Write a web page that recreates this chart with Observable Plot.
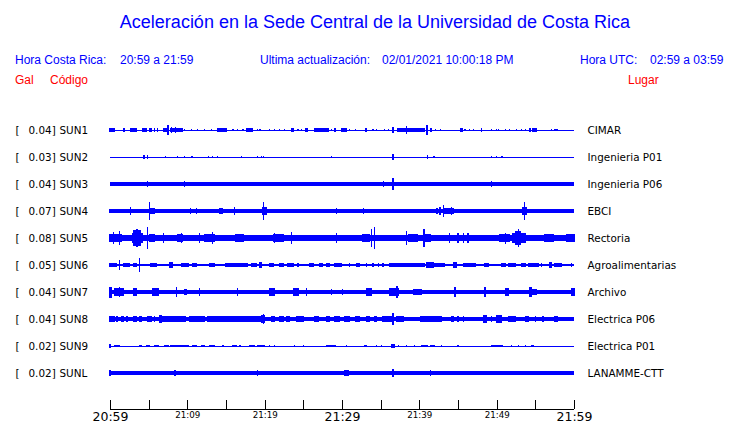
<!DOCTYPE html>
<html><head><meta charset="utf-8">
<script src="https://cdn.jsdelivr.net/npm/d3@7"></script>
<script src="https://cdn.jsdelivr.net/npm/@observablehq/plot@0.6"></script>
<style>
body{margin:0;background:#fff;}
#wrap{position:relative;width:740px;height:423px;overflow:hidden;font-family:"Liberation Sans",Arial,sans-serif;background:#fff;}
.h{position:absolute;white-space:pre;line-height:1;}
.b{color:#0000ff;font-size:12px;}
.r{color:#ff0000;font-size:12px;}
#chart{position:absolute;left:0;top:0;}
</style></head><body>
<div id="wrap">
 <div id="chart"></div>
 <div class="h" style="left:5px;width:740px;text-align:center;top:13px;font-size:18px;color:#0000ff">Aceleración en la Sede Central de la Universidad de Costa Rica</div>
 <div class="h b" style="left:15px;top:54px">Hora Costa Rica:</div>
 <div class="h b" style="left:120px;top:54px">20:59 a 21:59</div>
 <div class="h b" style="left:260px;top:54px">Ultima actualización:</div>
 <div class="h b" style="left:382px;top:54px">02/01/2021 10:00:18 PM</div>
 <div class="h b" style="left:580px;top:54px">Hora UTC:</div>
 <div class="h b" style="left:650px;top:54px">02:59 a 03:59</div>
 <div class="h r" style="left:15px;top:74px">Gal</div>
 <div class="h r" style="left:50px;top:74px">Código</div>
 <div class="h r" style="left:628px;top:74px">Lugar</div>
</div>
<script>
// ---- data ----
const codes = ["SUN1","SUN2","SUN3","SUN4","SUN5","SUN6","SUN7","SUN8","SUN9","SUNL"];
const galMax = [0.04,0.03,0.04,0.07,0.08,0.05,0.04,0.04,0.02,0.02];
const places = ["CIMAR","Ingenieria P01","Ingenieria P06","EBCI","Rectoria","Agroalimentarias","Archivo","Electrica P06","Electrica P01","LANAMME-CTT"];
// background noise half-amplitude (Gal)
const baseAmp = [0.003,0.003,0.012,0.011,0.019,0.007,0.012,0.011,0.003,0.011];
// bursts: [start minute, end minute, half-amplitude Gal], minutes after 20:59
const burstsSUN1 = [[0,0.6,.011],[1.8,1.8,.011],[2.7,3.4,.011],[4.2,4.7,.011],[5.1,5.3,.011],[5.8,5.8,.011],[6.1,6.1,.011],[6.9,7.1,.011],[7.3,7.3,.015],[7.5,7.5,.036],[7.8,9.3,.013],[8.0,8.0,.025],[8.5,8.5,.02],[9.6,9.6,.008],[10.5,10.5,.008],[11.3,11.3,.008],[12.2,12.2,.008],[13.1,13.1,.008],[13.9,15.1,.011],[15.9,15.9,.008],[16.5,16.5,.008],[17.2,17.2,.008],[17.7,18.4,.011],[19.1,19.1,.008],[19.4,19.4,.008],[20.6,20.6,.008],[21.3,21.3,.008],[21.9,21.9,.008],[22.6,22.6,.008],[23.5,23.7,.011],[24.3,24.3,.008],[24.8,24.8,.008],[25.3,25.5,.011],[26.5,28.2,.011],[28.6,28.6,.008],[29.1,29.1,.011],[30,30.6,.011],[31,31,.008],[31.7,31.7,.008],[33.1,33.1,.011],[34,34,.008],[34.5,34.5,.008],[35.5,35.5,.008],[36,36,.008],[36.6,36.6,.025],[37.2,39.2,.013],[38.3,38.3,.03],[39.2,40.7,.011],[41,41,.036],[41.4,41.6,.011],[42.1,42.1,.008],[42.7,42.7,.008],[45.4,45.6,.011],[45.9,45.9,.008],[46.5,46.5,.008],[47,47,.008],[48,48,.011],[49.3,49.3,.008],[50,50,.008],[50.2,50.2,.008],[51.1,51.1,.008],[51.7,51.7,.008],[52.6,52.6,.008],[53.2,53.2,.008],[53.7,53.7,.008],[54.3,54.3,.011],[54.7,55.2,.011],[57.1,57.1,.008],[57.5,57.8,.008]];
const burstsSUN2 = [[4.4,4.4,.011],[4.9,4.9,.011],[7.2,7.2,.007],[8.7,8.7,.007],[9.6,9.6,.007],[10.6,10.6,.007],[12.7,12.7,.007],[13.3,13.3,.007],[13.9,13.9,.007],[17,17,.007],[19.1,19.1,.007],[19.6,19.6,.007],[19.8,19.8,.007],[28.6,28.6,.007],[36.6,36.6,.024],[41.1,41.1,.011],[41.9,41.9,.007],[49.3,49.3,.008],[50,50,.008],[50.6,50.8,.01]];
const burstsSUN3 = [[4.9,4.9,.02],[5.7,5.7,.018],[6.1,6.1,.018],[7,7,.018],[9.6,9.6,.022],[11.6,11.6,.018],[16.4,16.4,.018],[17.1,17.1,.018],[19.8,19.8,.018],[35.4,35.4,.02],[36.6,36.6,.044],[49.3,49.3,.022],[50,50.7,.018]];
const burstsSUN4 = [[0,0.2,.018],[0.6,1.2,.015],[1.7,1.7,.015],[2.1,2.1,.015],[2.7,2.7,.03],[3.2,3.5,.015],[5.1,5.1,.065],[5.3,5.8,.022],[6.8,7.7,.018],[8.4,8.4,.015],[9,9,.015],[10.3,11.6,.015],[10.4,10.4,.022],[11.2,11.2,.022],[12.2,12.2,.015],[13,13,.015],[14.2,14.5,.022],[16.1,16.1,.026],[16.9,16.9,.018],[18.3,19.6,.013],[19.9,19.9,.065],[19.7,20.2,.03],[20.9,21.5,.013],[25.2,25.2,.015],[27.8,27.8,.015],[29.3,29.3,.022],[30.6,30.6,.015],[31.2,31.9,.015],[32.8,32.8,.022],[34.5,35.3,.018],[36.6,36.6,.015],[37.9,37.9,.015],[39.6,39.6,.015],[39.4,39.8,.013],[42.2,42.4,.022],[42.6,42.7,.026],[43.1,43.1,.044],[43.3,43.6,.02],[43.8,44.1,.024],[44.2,44.2,.03],[44.3,44.4,.02],[47.2,47.2,.015],[48.5,48.5,.015],[49.6,49.6,.015],[50.7,50.7,.015],[53.6,53.6,.062],[53.4,53.9,.026],[56.7,56.7,.018],[58.4,58.4,.015]];
const burstsSUN5 = [[0,1.5,.03],[0.5,0.5,.044],[1.2,1.2,.05],[1.9,2.7,.022],[2.9,3.1,.035],[3.1,3.9,.055],[3.9,4.2,.035],[3.5,3.5,.065],[3.2,3.2,.058],[4.8,4.8,.08],[5.1,5.8,.03],[6.4,7.9,.025],[6.9,6.9,.033],[8.8,9.4,.03],[9.2,9.2,.036],[10.1,11.4,.022],[11.6,11.6,.036],[12.2,13.5,.032],[13.3,13.3,.044],[16.3,17.2,.03],[17.4,18.3,.025],[18.5,19.6,.025],[19.4,20.6,.025],[21.3,21.3,.036],[21.1,22.4,.028],[23.5,23.5,.044],[23.7,25,.02],[26.5,27.1,.025],[28.6,30.1,.025],[29.3,29.3,.036],[31.4,32.3,.022],[32.7,33.6,.028],[33.8,33.8,.065],[34.2,34.2,.08],[34.5,35.8,.025],[36.6,37.5,.025],[38.3,38.3,.05],[38.6,39.8,.028],[39.4,40.3,.022],[40.5,41.4,.028],[40.6,40.6,.065],[42.4,45,.02],[43.9,43.9,.033],[45,45,.033],[45.5,47.2,.025],[45.7,45.7,.036],[46.3,46.3,.033],[48,49.3,.02],[50.4,51.7,.028],[51.1,51.1,.04],[52.1,52.5,.033],[52.5,53.1,.05],[53.1,53.7,.033],[52.8,52.8,.065],[54.1,55,.022],[56.2,57.3,.03],[57.8,58.6,.02],[59.1,60,.03]];
const burstsSUN6 = [[0,0.8,.015],[1.2,1.2,.034],[1.7,2.5,.015],[3,3.4,.015],[3.8,3.8,.05],[5.3,6,.015],[7.7,8.1,.022],[9.2,10.1,.015],[10.7,11.2,.015],[12.9,13.5,.018],[15,15.7,.015],[15.9,16.8,.015],[17,17.8,.015],[18.3,18.9,.015],[19.4,19.6,.022],[20.6,21.1,.015],[21.9,22.4,.015],[23,23.7,.015],[24.3,24.3,.015],[25.8,26.3,.018],[27.1,27.5,.015],[28,28.4,.015],[29.1,29.9,.018],[31,31,.015],[31.9,32.3,.015],[33.2,33.2,.015],[34,34,.015],[34.7,34.7,.015],[35.3,35.3,.015],[36.2,40.7,.013],[40.9,41.8,.022],[42,43.3,.015],[44.4,44.8,.022],[45.7,47.2,.015],[48.5,48.9,.015],[50.6,51.1,.018],[51.5,52.4,.015],[53.2,53.7,.015],[54.1,55.4,.018],[55.8,55.8,.015],[56.9,57.1,.022],[57.5,58.4,.015],[59.7,59.7,.015]];
const burstsSUN7 = [[0,0.2,.04],[0.6,1.7,.026],[1.2,1.2,.033],[3,3.4,.026],[5.5,6.2,.026],[6.8,7.3,.018],[8.6,8.6,.036],[9.6,9.9,.022],[10.5,11.2,.018],[11.6,11.6,.026],[12.2,12.7,.018],[13.1,13.5,.018],[14.8,15.2,.018],[15.7,15.7,.015],[16.5,16.5,.03],[17.8,17.8,.018],[19.1,19.6,.018],[20.6,21.3,.026],[23,23.2,.018],[23.7,24.3,.026],[25.4,25.4,.026],[28.6,28.6,.022],[30.1,30.1,.022],[32.3,32.3,.018],[33.2,33.8,.026],[34.5,34.5,.018],[36.2,37.3,.03],[37.1,37.1,.044],[39.2,39.6,.022],[39.4,40.3,.02],[40.7,40.7,.018],[42.2,42.2,.018],[42.9,42.9,.018],[44.6,44.6,.033],[48.5,48.5,.036],[49.6,49.6,.018],[51.1,51.5,.026],[52.4,52.4,.018],[54.3,54.5,.036],[54.7,55.2,.022],[56.2,56.2,.018],[57.5,57.5,.018],[59.1,59.1,.018],[59.7,60,.026]];
const burstsSUN8 = [[0,0.6,.019],[0.8,1,.019],[1.5,1.7,.019],[2.1,2.3,.019],[3,3.4,.019],[3.8,4,.019],[4.9,5.3,.022],[5.8,5.8,.019],[6.4,6.6,.026],[6.8,7.9,.019],[8.1,9.8,.022],[10.3,12.2,.022],[12.6,15.7,.019],[15.9,19.6,.022],[19.8,19.8,.034],[19.6,20,.026],[20.9,21.3,.019],[21.9,22.4,.019],[22.8,23.2,.019],[24.1,25,.019],[26.5,26.9,.019],[28,28.4,.019],[29.1,29.7,.019],[30.4,31,.019],[31.7,32.3,.019],[33.2,33.6,.019],[34.2,34.4,.019],[35.3,36.4,.022],[36.6,36.6,.044],[37,37.9,.022],[38.3,40.1,.017],[40.1,42.9,.022],[44.2,44.4,.019],[45,45,.019],[45.7,45.7,.019],[48.3,48.7,.026],[49.3,49.3,.019],[50,50.6,.03],[51.5,52.4,.022],[53.7,54.1,.022],[55,55,.019],[56,56,.019],[57.5,57.8,.019]];
const burstsSUN9 = [[0,0,.011],[0.6,1.2,.008],[3.8,4,.008],[4.7,5.1,.008],[5.8,6.2,.008],[7.1,7.5,.008],[7.9,10.1,.01],[10.7,11.2,.008],[11.8,12.2,.008],[12.9,13.5,.008],[14.6,14.6,.008],[15.9,16.3,.008],[16.8,16.8,.008],[18.1,18.7,.008],[19.1,20,.008],[20.6,20.6,.008],[21.3,21.3,.008],[23.9,23.9,.008],[25,25,.008],[28,29.1,.008],[30.6,30.6,.008],[32.9,33.1,.008],[34.5,34.5,.008],[35.1,35.1,.008],[36.4,36.8,.018],[37.3,37.3,.008],[38.3,38.3,.008],[39.4,39.4,.008],[40.3,41.1,.008],[41.4,42,.008],[42.9,42.9,.008],[45,45,.008],[49.3,50.8,.01],[51.9,51.9,.008],[52.8,52.8,.008],[53.7,53.7,.008],[54.5,54.7,.008]];
const burstsSUNL = [[0,0,.02],[1.9,1.9,.015],[3.4,3.8,.018],[4,4.5,.015],[5.3,5.3,.015],[8.4,8.4,.02],[14,14.4,.018],[15,15,.015],[15.7,15.7,.015],[19.1,19.1,.022],[19.4,26.7,.013],[27.1,27.1,.015],[30.4,30.8,.022],[32.3,32.3,.015],[34.5,35,.015],[36.6,36.6,.026],[37,40.1,.013],[39.4,41.1,.015],[41.4,41.4,.022],[44.2,45.2,.015],[48,48,.018],[52.8,53.2,.015],[54.1,55.4,.015],[56.5,57.1,.015],[57.5,58,.015],[59.3,59.7,.015]];
// x axis ticks (minutes after 20:59) and labels
const tickMinutes = [0,5,10,15,20,25,30,35,40,45,50,55,60];
const labelMinutes = [0,10,20,30,40,50,60];
const tickLabels = ["20:59","21:09","21:19","21:29","21:39","21:49","21:59"];
const bigLabels = ["20:59","21:29","21:59"];

// ---- layout constants ----
const T0 = 0, T1 = 60;
const PX = 1 / 137.5;         // Gal per pixel
const ROW = 27 * PX;          // row spacing in Gal
const yTop = 13.5 * PX, yBot = -279 * PX;
const BLUE = "#0000ff";

const allBursts = [burstsSUN1,burstsSUN2,burstsSUN3,burstsSUN4,burstsSUN5,burstsSUN6,burstsSUN7,burstsSUN8,burstsSUN9,burstsSUNL];
const rows = codes.map((code, i) => ({code, gal: galMax[i], place: places[i], base: baseAmp[i], c: -i * ROW}));
const spikes = rows.flatMap((r, i) => allBursts[i].map(([t1, t2, a]) => ({t1, t2, a, c: r.c})));
const labels = labelMinutes.map((m, i) => ({m, text: tickLabels[i], big: bigLabels.includes(tickLabels[i])}));

const chart = Plot.plot({
  width: 740, height: 423,
  marginTop: 116.5, marginBottom: 14, marginLeft: 110, marginRight: 166,
  x: {domain: [T0, T1], axis: null},
  y: {domain: [yBot, yTop], axis: null},
  style: {overflow: "visible", background: "transparent"},
  marks: [
    Plot.rect(rows, {x1: () => T0, x2: () => T1, y1: d => d.c - d.base, y2: d => d.c + d.base, fill: BLUE, shapeRendering: "crispEdges"}),
    Plot.ruleY(rows, {y: d => d.c, x1: () => T0, x2: () => T1, stroke: BLUE, strokeWidth: 1, shapeRendering: "crispEdges"}),
    Plot.rect(spikes, {x1: "t1", x2: "t2", y1: d => d.c - d.a, y2: d => d.c + d.a, insetLeft: -0.6, insetRight: -0.6, fill: BLUE, shapeRendering: "crispEdges"}),
    Plot.text(rows, {x: () => T0, y: "c", text: () => "[", dx: -95, textAnchor: "start", fontFamily: "DejaVu Sans", fontSize: 10.4, fill: "black"}),
    Plot.text(rows, {x: () => T0, y: "c", text: d => d.gal.toFixed(2) + "]", dx: -82, textAnchor: "start", fontFamily: "DejaVu Sans", fontSize: 10.4, fill: "black"}),
    Plot.text(rows, {x: () => T0, y: "c", text: "code", dx: -51, textAnchor: "start", fontFamily: "DejaVu Sans", fontSize: 10.4, fill: "black"}),
    Plot.text(rows, {x: () => T1, y: "c", text: "place", dx: 13, textAnchor: "start", fontFamily: "DejaVu Sans", fontSize: 10.4, fill: "black"}),
    Plot.ruleY([yBot], {x1: () => T0, x2: () => T1, stroke: "black", strokeWidth: 1, shapeRendering: "crispEdges"}),
    Plot.ruleX(tickMinutes, {x: d => d, y1: yBot, y2: yBot + 9 * PX, stroke: "black", strokeWidth: 1, shapeRendering: "crispEdges"}),
    Plot.text(labels.filter(d => d.big), {x: "m", y: () => yBot, text: "text", dy: 7, lineAnchor: "middle", fontFamily: "DejaVu Sans", fontSize: 12.5, fill: "black"}),
    Plot.text(labels.filter(d => !d.big), {x: "m", y: () => yBot, text: "text", dy: 5.5, lineAnchor: "middle", fontFamily: "DejaVu Sans", fontSize: 8.7, fill: "black"})
  ]
});
document.getElementById("chart").appendChild(chart);
</script>
</body></html>
